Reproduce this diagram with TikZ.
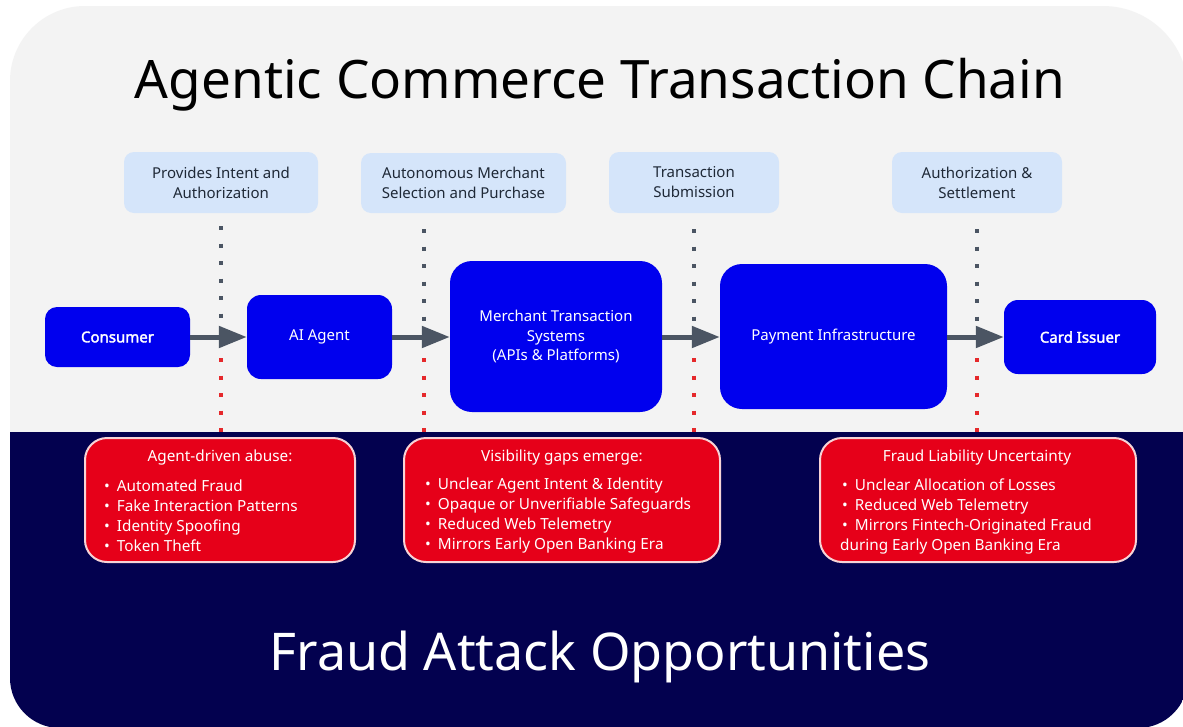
\documentclass[tikz,border=0pt]{standalone}
\usepackage{fontspec}
\setmainfont{Noto Sans}
\newfontfamily\nsbold{Noto Sans}[FakeBold=2.2]
\usetikzlibrary{arrows.meta}
\definecolor{cardbg}{HTML}{F3F3F3}
\definecolor{navybg}{HTML}{03014F}
\definecolor{lblue}{HTML}{D5E5FA}
\definecolor{nblue}{HTML}{0000EE}
\definecolor{rbox}{HTML}{E60019}
\definecolor{rborder}{HTML}{F7D3D6}
\definecolor{arrowgray}{HTML}{4B5563}
\definecolor{dotred}{HTML}{E5282B}
\definecolor{txtdark}{HTML}{1F2937}
\newcommand\bul{•\hspace{7pt}}
\begin{document}
\begin{tikzpicture}[x=1pt,y=-1pt,
  lbl/.style={fill=lblue, rounded corners=10pt, inner sep=0pt, align=center, text=txtdark, font=\fontsize{15}{20}\selectfont},
  mainbox/.style={fill=nblue, inner sep=0pt, align=center, text=white, font=\fontsize{15}{19.5}\selectfont},
  riskbox/.style={fill=rbox, draw=rborder, line width=2pt, rounded corners=22pt, inner sep=0pt},
  risktext/.style={text=white, inner sep=0pt, align=left, font=\fontsize{15.3}{20}\selectfont},
  riskhead/.style={text=white, inner sep=0pt, font=\fontsize{15.3}{20}\selectfont},
  flow/.style={draw=arrowgray, line width=5pt, -{Triangle[length=28pt,width=21pt]}},
  gdots/.style={draw=arrowgray, line width=4pt, dash pattern=on 4pt off 13.5pt},
  rdots/.style={draw=dotred, line width=4pt, dash pattern=on 4pt off 13.5pt},
]
\useasboundingbox (0,0) rectangle (1183,726);
\fill[white] (0,0) rectangle (1183,726);
\def\cardpath{(10,81) arc (180:270:75) -- (1103,6) arc (270:360:85) -- (1188,678) arc (0:90:50) -- (60,728) arc (90:180:50) -- cycle}
\fill[cardbg] \cardpath;
\begin{scope}
  \clip \cardpath;
  \fill[navybg] (0,432) rectangle (1200,740);
\end{scope}

% titles
\node[anchor=base, inner sep=0pt, font=\fontsize{53}{60}\selectfont, text=black] (title) at (600,98) {Agentic Commerce Transaction Chain};
\node[anchor=base, inner sep=0pt, font=\fontsize{52}{60}\selectfont, text=white] (bottomtitle) at (600,670) {Fraud Attack Opportunities};

% dotted guide lines
\coordinate (d1t) at (221,226); \coordinate (d1m) at (221,318);
\coordinate (d1r) at (221,358); \coordinate (d1b) at (221,432);
\coordinate (d2t) at (424,229); \coordinate (d2m) at (424,321);
\coordinate (d2r) at (424,358); \coordinate (d2b) at (424,432);
\coordinate (d3t) at (694,229); \coordinate (d3m) at (694,321);
\coordinate (d3r) at (694,358); \coordinate (d3b) at (694,432);
\coordinate (d4t) at (977,229); \coordinate (d4m) at (977,321);
\coordinate (d4r) at (977,358); \coordinate (d4b) at (977,432);
\foreach \i in {1,2,3,4}{
  \draw[gdots] (d\i t) -- (d\i m);
  \draw[rdots] (d\i r) -- (d\i b);
}

% stage labels
\node[lbl, minimum width=194pt, minimum height=61pt] (p1) at (221,182.5) {Provides Intent and\\Authorization};
\node[lbl, minimum width=205pt, minimum height=60pt] (p2) at (463.5,183) {Autonomous Merchant\\Selection and Purchase};
\node[lbl, minimum width=170pt, minimum height=61pt] (p3) at (694,182.5) {Transaction\\Submission};
\node[lbl, minimum width=170pt, minimum height=61pt] (p4) at (977,182.5) {Authorization \&\\Settlement};

% main chain
\node[mainbox, rounded corners=12pt, minimum width=145pt, minimum height=60pt, font=\fontsize{15}{19.5}\nsbold] (consumer) at (117.5,337) {Consumer};
\node[mainbox, rounded corners=14pt, minimum width=145pt, minimum height=84pt] (agent) at (319.5,337) {AI Agent};
\node[mainbox, rounded corners=22pt, minimum width=212pt, minimum height=151pt] (merchant) at (556,336.5) {Merchant Transaction\\Systems\\(APIs \& Platforms)};
\node[mainbox, rounded corners=22pt, minimum width=227pt, minimum height=145pt] (payment) at (833.5,336.5) {Payment Infrastructure};
\node[mainbox, rounded corners=14pt, minimum width=152pt, minimum height=74pt, font=\fontsize{15}{19.5}\nsbold] (issuer) at (1080,337) {Card Issuer};

\draw[flow] (consumer.east) -- (agent.west);
\draw[flow] (agent.east) -- (agent.east -| merchant.west);
\draw[flow] (merchant.east |- agent.east) -- (agent.east -| payment.west);
\draw[flow] (payment.east |- agent.east) -- (issuer.west);

% risk boxes
\node[riskbox, minimum width=270pt, minimum height=124pt] (r1) at (220,500) {};
\node[riskbox, minimum width=316pt, minimum height=124pt] (r2) at (562,500) {};
\node[riskbox, minimum width=316pt, minimum height=124pt] (r3) at (978,500) {};

\node[riskhead] (r1h) at (220,458) {Agent-driven abuse:};
\node[risktext, anchor=west] (r1l) at (104,516) {\bul Automated Fraud\\\bul Fake Interaction Patterns\\\bul Identity Spoofing\\\bul Token Theft};
\node[riskhead] (r2h) at (562,458) {Visibility gaps emerge:};
\node[risktext, anchor=west] (r2l) at (425,516) {\bul Unclear Agent Intent \& Identity\\\bul Opaque or Unverifiable Safeguards\\\bul Reduced Web Telemetry\\\bul Mirrors Early Open Banking Era};
\node[riskhead] (r3h) at (977,458) {Fraud Liability Uncertainty};
\node[risktext, anchor=west] (r3l) at (840,516) {\hspace{2pt}\bul Unclear Allocation of Losses\\\hspace{2pt}\bul Reduced Web Telemetry\\\hspace{2pt}\bul Mirrors Fintech-Originated Fraud\\during Early Open Banking Era};
\end{tikzpicture}
\end{document}
